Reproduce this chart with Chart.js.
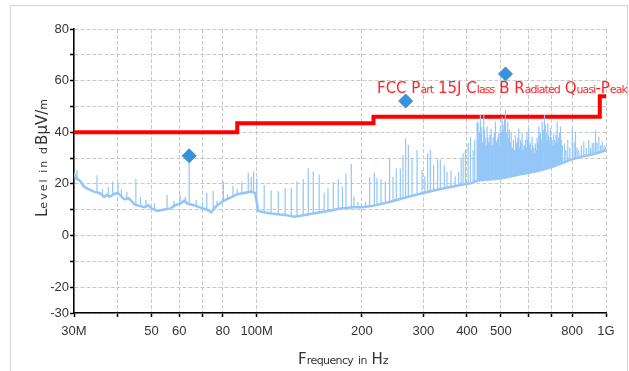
<!DOCTYPE html>
<html>
<head>
<meta charset="utf-8">
<script src="https://cdn.jsdelivr.net/npm/chart.js@4/dist/chart.umd.min.js"></script>
<style>
  html, body { margin: 0; padding: 0; background: #fff; }
  canvas { display: block; }
</style>
</head>
<body>
<canvas id="emcChart" width="629" height="371"></canvas>
<script>
// frequencies in MHz, levels in dBuV/m
const floorFreq = [30, 30.5, 31, 31.5, 32, 33, 34.2, 35.5, 36.6, 37.3, 38, 39, 40, 41.9, 43, 44.8, 46, 47.9, 49, 50,
  52, 54, 56.6, 58, 60.6, 62, 63.5, 64.9, 67, 69.4, 72, 74.2, 76, 79.4, 82, 85, 88, 92, 96, 99,
  101, 105, 110, 120, 128, 135, 145, 160, 174, 190, 201, 215, 240, 270, 300, 336, 380, 412, 430, 470,
  510, 560, 638, 700, 791, 850, 920, 1000];
const floorLevel = [24, 22, 21.5, 20.5, 19, 18, 17, 16.5, 15, 15.8, 15, 16, 16.5, 14, 14.5, 12, 11.5, 11, 11.8, 10.5,
  9.5, 10, 10.5, 11.5, 12.5, 13.5, 12.3, 12, 11.5, 10.7, 10, 9, 11, 13, 14, 15, 16, 16.5, 17, 16.5,
  9.5, 9, 8.5, 8, 7.3, 7.8, 8.5, 9.5, 10.5, 11, 11, 11.5, 13, 14.9, 16.5, 18, 19.5, 20.3, 21.3, 21.8,
  22.3, 23.5, 25, 26.5, 29.3, 30.5, 31.5, 33];

const spikeFreq = [30.6, 34.9, 36.2, 37.6, 38.7, 40.1, 41, 42.5, 45.1, 46.5, 48.2, 51, 55.4, 58, 60.4, 62.5, 64.1, 67.1, 70, 72,
  75.1, 77, 80.3, 82.5, 85.5, 88, 90.7, 94.6, 96.5, 98, 100.1,
  105.1, 110, 115.3, 120.7, 125.6, 130.4, 135.9, 140.5, 145.2, 151, 156, 160, 165.7, 171.2, 176, 180.1, 186.6, 190, 195,
  205, 210.6, 217.2, 221, 227, 233.5, 240.2, 245.7, 251, 257.8, 262.4, 267, 271.8, 278.4, 287.8, 297.4, 303, 308.7, 314.2, 321,
  329.6, 335.5, 344.4, 350.6, 360, 370, 378.6, 385, 390, 395.8, 403, 409.2, 416.5, 421, 427.6, 430.4,
  434, 437, 441, 446.7, 451, 456.7, 462, 468.9, 475, 482.5, 488, 493.1, 498, 504.3, 510, 515.5, 523.3, 529, 535.1, 543,
  550.5, 556, 562.6, 569, 575.4, 582, 588, 594, 600.9, 607, 614.6, 621, 628.1, 635, 642, 649, 656.6, 666.6, 674, 681.3,
  687, 693.6, 701, 708.8, 716, 724.9, 732, 740.9, 750, 760.6, 768, 777.3, 788, 800.4, 810, 817.9, 826, 835.8, 850, 863.9,
  878, 892.9, 903, 913.2, 923, 933.3, 943, 953.8, 965, 975.3, 987, 996.9,
  // dense band 430-750 MHz
  432, 439, 444, 449, 454, 459, 465, 472, 479, 485, 490.5, 495.5, 501, 507, 512.5, 519, 526, 532, 539, 547,
  553, 559, 566, 572, 579, 585, 591, 597, 604, 611, 618, 625, 631, 638, 645, 652, 661, 670, 677, 684,
  690, 697, 705, 712, 720, 728, 736, 745];
const spikePeak = [25.5, 23.4, 18, 18.8, 20.8, 20.3, 18, 17, 21.9, 15, 13.8, 12.5, 15.7, 13.5, 15.7, 15, 30.8, 13.8, 13, 16.5,
  17.3, 13.5, 20.9, 16, 19.2, 18, 20.9, 24.3, 22.8, 24.7, 22.2,
  19.6, 17.4, 17.3, 18.4, 18.5, 20.9, 21.8, 26.1, 24.8, 23.6, 16.6, 18.3, 20.7, 21.9, 18.9, 24, 27.7, 15, 13,
  13, 22.6, 24.3, 22.2, 21.8, 20.9, 29.9, 22.8, 26, 26, 31.2, 37.7, 35.1, 29.9, 33.1, 25.4, 23, 31.9, 33.1, 27.3,
  29.5, 29.5, 27.3, 24.7, 25.1, 23, 24.7, 30, 31.9, 33.1, 35.7, 38.3, 33.1, 37, 44.1, 43.7,
  40, 46.7, 42, 46.7, 38, 42.2, 36, 41.5, 38, 44.1, 37, 39.6, 42, 46, 43, 48.6, 44.1, 41, 40.2, 37,
  38.9, 36, 41.5, 37, 39.6, 35, 37, 40, 41.5, 36, 38.3, 34, 35.7, 38, 42.2, 40, 44.1, 46.7, 40, 43.4,
  38, 41.5, 37, 39.6, 36, 44.1, 38, 42.2, 35, 35.7, 33, 37, 34, 41.5, 36, 40.2, 34, 33.1, 35, 36.4,
  34, 37, 34, 35.7, 36, 40.9, 36, 38.3, 35, 36.4, 35, 34.4,
  35, 39, 36, 41, 35, 38, 39, 35, 40, 36, 38, 35, 40, 41, 45, 40, 38, 36, 34, 33,
  35, 38, 34, 36, 33, 35, 34, 37, 35, 33, 35, 32, 33, 36, 39, 37, 41, 43, 37, 39,
  36, 38, 35, 37, 39, 36, 40, 37];
const spikeBase = [22, 17, 15.5, 15, 15.5, 16, 15, 14, 12, 11.5, 11, 10, 10.5, 11, 12.5, 13, 12.5, 11.5, 10.5, 10,
  10, 11.5, 13, 14, 15, 16, 16, 17, 17, 17, 10,
  9, 8.5, 8.2, 8, 7.5, 7.4, 7.8, 8, 8.5, 8.8, 9, 9.5, 9.8, 10.2, 10.5, 10.5, 10.7, 11, 11,
  11, 11.2, 11.5, 11.8, 12, 12.5, 13, 13.3, 13.6, 14, 14.3, 14.8, 15, 15.3, 15.8, 16.4, 16.7, 17, 17.2, 17.5,
  17.8, 18, 18.4, 18.6, 19, 19.2, 19.5, 19.8, 20, 20.1, 20.3, 20.5, 20.8, 21, 21.2, 21.3,
  21.4, 21.5, 21.5, 21.6, 21.6, 21.7, 21.8, 21.9, 22, 22, 22.1, 22.2, 22.2, 22.3, 22.3, 22.4, 22.6, 22.7, 22.9, 23,
  23.2, 23.3, 23.5, 23.7, 23.9, 24, 24.2, 24.4, 24.6, 24.7, 24.8, 24.9, 25, 25.1, 25.2, 25.4, 25.6, 25.9, 26.1, 26.3,
  26.4, 26.5, 26.7, 27, 27.3, 27.6, 27.9, 28.2, 28.5, 28.8, 29, 29.2, 29.3, 29.6, 29.9, 30.1, 30.3, 30.5, 30.8, 31,
  31.2, 31.4, 31.5, 31.6, 31.8, 32, 32.1, 32.2, 32.3, 32.4, 32.5, 32.6,
  21.3, 21.5, 21.5, 21.6, 21.7, 21.8, 21.8, 21.9, 22, 22.1, 22.1, 22.2, 22.3, 22.3, 22.4, 22.5, 22.6, 22.8, 23, 23.1,
  23.2, 23.4, 23.6, 23.8, 23.9, 24.1, 24.3, 24.5, 24.6, 24.8, 24.9, 25, 25, 25.2, 25.3, 25.5, 25.8, 26, 26.2, 26.3,
  26.5, 26.6, 26.8, 27.1, 27.5, 27.8, 28, 28.3];

const limitFreq = [30, 88, 88, 216, 216, 960, 960, 1000];
const limitLevel = [40, 40, 43.5, 43.5, 46, 46, 54, 54];
const limitName = 'FCC Part 15J Class B Radiated Quasi-Peak';

const markerFreq = [64.1, 267, 515.5];
const markerLevel = [30.9, 52.1, 62.6];

const xTicks = [30, 40, 50, 60, 70, 80, 100, 200, 300, 400, 500, 600, 700, 800, 1000];
const xTickLabels = ['30M', '', '50', '60', '', '80', '100M', '200', '300', '400', '500', '', '', '800', '1G'];
const yLabelled = [-30, -20, 0, 20, 40, 60, 80];

const xTitle = 'Frequency in Hz';
const yTitle = 'Level in dBµV/m';

const tickFont = "'Liberation Sans Narrow', 'Liberation Sans', Arial, sans-serif";
const titleFont = "'Liberation Sans Narrow', 'DejaVu Sans', sans-serif";

const floorData = floorFreq.map((f, i) => ({ x: f, y: floorLevel[i] }));
const spikeData = [];
spikeFreq.forEach((f, i) => {
  spikeData.push({ x: f, y: spikeBase[i] }, { x: f, y: spikePeak[i] }, { x: f, y: null });
});

// capitals and digits big, lowercase letters small; spread to a given width
function layoutCaps(ctx, text, big, small, width) {
  const parts = [];
  let natural = 0, nLower = 0;
  for (const ch of text) {
    const lower = /[a-z]/.test(ch);
    ctx.font = (lower ? small : big) + 'px ' + titleFont;
    const w = ctx.measureText(ch).width;
    parts.push({ ch, font: ctx.font, w, lower });
    natural += w;
    if (lower) nLower++;
  }
  const extra = nLower ? (width - natural) / nLower : 0;
  parts.forEach(p => { if (p.lower) p.w += extra; });
  return { parts, width };
}
function fillCaps(ctx, layout, x, y) {
  let cx = x;
  layout.parts.forEach(p => {
    ctx.font = p.font;
    ctx.fillText(p.ch, cx, y);
    cx += p.w;
  });
}

const decorations = {
  id: 'decorations',
  beforeDraw(chart) {
    const ctx = chart.ctx;
    ctx.save();
    ctx.fillStyle = '#fff';
    ctx.fillRect(0, 0, chart.width, chart.height);
    ctx.strokeStyle = '#d4d4d4';
    ctx.lineWidth = 1;
    ctx.strokeRect(10.5, 5.5, 617, 380);
    ctx.restore();
  },
  afterDraw(chart) {
    const ctx = chart.ctx;
    ctx.save();
    ctx.textBaseline = 'alphabetic';
    ctx.textAlign = 'left';

    ctx.fillStyle = '#333';
    const xl = layoutCaps(ctx, xTitle, 15, 11, 90);
    fillCaps(ctx, xl, 298, 364);

    const yl = layoutCaps(ctx, yTitle, 15, 11, 120);
    ctx.translate(47, 157);
    ctx.rotate(-Math.PI / 2);
    fillCaps(ctx, yl, -60, 0);
    ctx.setTransform(1, 0, 0, 1, 0, 0);

    ctx.fillStyle = '#ff2424';
    const ll = layoutCaps(ctx, limitName, 15, 11, 250);
    fillCaps(ctx, ll, 377, 92.5);
    ctx.restore();
  }
};

new Chart(document.getElementById('emcChart'), {
  data: {
    datasets: [
      {
        type: 'scatter',
        label: 'Markers',
        data: markerFreq.map((f, i) => ({ x: f, y: markerLevel[i] })),
        pointStyle: 'rectRot',
        pointRadius: 7,
        backgroundColor: '#3990dc',
        borderColor: '#3990dc',
        order: 0
      },
      {
        type: 'line',
        label: 'Spikes',
        data: spikeData,
        borderColor: 'rgb(148,198,247)',
        borderWidth: 1.2,
        pointRadius: 0,
        spanGaps: false,
        order: 1
      },
      {
        type: 'line',
        label: 'Noise floor',
        data: floorData,
        borderColor: 'rgb(148,198,247)',
        borderWidth: 2.5,
        pointRadius: 0,
        order: 2
      },
      {
        type: 'line',
        label: limitName,
        data: limitFreq.map((f, i) => ({ x: f, y: limitLevel[i] })),
        borderColor: '#ff0000',
        borderWidth: 4,
        pointRadius: 0,
        borderJoinStyle: 'miter',
        order: 3
      }
    ]
  },
  options: {
    responsive: false,
    animation: false,
    events: [],
    layout: { padding: { top: 29, right: 23, left: 0, bottom: 0 } },
    plugins: { legend: { display: false }, tooltip: { enabled: false } },
    scales: {
      x: {
        type: 'logarithmic',
        min: 30,
        max: 1000,
        afterBuildTicks: scale => { scale.ticks = xTicks.map(v => ({ value: v })); },
        afterFit: scale => { scale.height = 58; },
        ticks: {
          autoSkip: false,
          maxRotation: 0,
          padding: 7,
          color: '#333',
          font: { family: tickFont, size: 13 },
          callback: (v, i) => xTickLabels[i]
        },
        grid: { color: '#c8c8c8', lineWidth: 1, tickColor: '#000', tickLength: 4, tickWidth: 1.5, tickBorderDash: [] },
        border: { display: true, color: '#000', width: 1.5, dash: [4, 2] }
      },
      y: {
        min: -30,
        max: 80,
        afterBuildTicks: scale => {
          const t = [];
          for (let v = -30; v <= 80; v += 10) t.push({ value: v });
          scale.ticks = t;
        },
        afterFit: scale => { scale.width = 74; },
        ticks: {
          padding: 1,
          color: '#333',
          font: { family: tickFont, size: 13 },
          callback: v => (yLabelled.includes(v) ? String(v) : '')
        },
        grid: { color: '#c8c8c8', lineWidth: 1, tickColor: '#000', tickLength: 4, tickWidth: 1.5, tickBorderDash: [] },
        border: { display: true, color: '#000', width: 1.5, dash: [4, 2] }
      }
    }
  },
  plugins: [decorations]
});
</script>
</body>
</html>
